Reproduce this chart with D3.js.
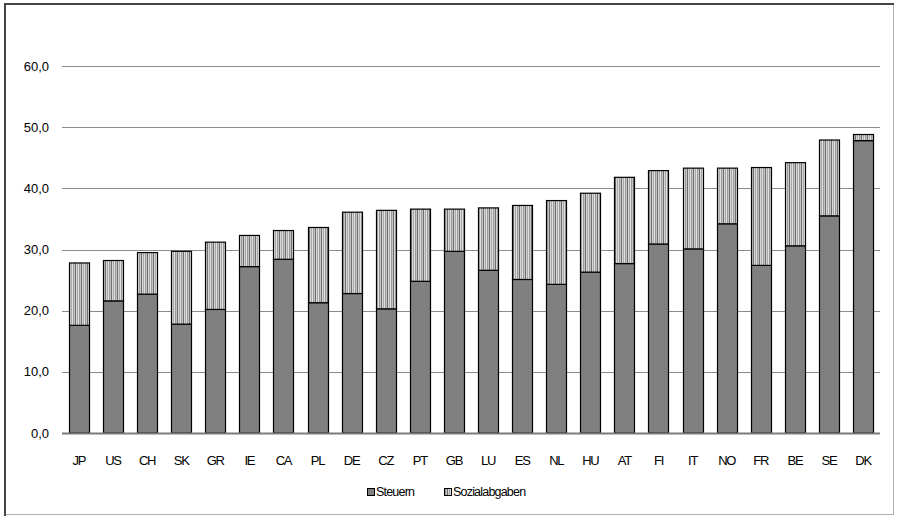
<!DOCTYPE html>
<html>
<head>
<meta charset="utf-8">
<script src="https://cdn.jsdelivr.net/npm/d3@7"></script>
<style>
    body { margin: 0; background: #fff; }
    svg { display: block; font-family: "Liberation Sans", Arial, sans-serif; }
</style>
</head>
<body>
<svg></svg>
<script>
const
    countries = ['JP', 'US', 'CH', 'SK', 'GR', 'IE', 'CA', 'PL', 'DE', 'CZ', 'PT', 'GB',
        'LU', 'ES', 'NL', 'HU', 'AT', 'FI', 'IT', 'NO', 'FR', 'BE', 'SE', 'DK'],
    steuern = [17.6, 21.6, 22.7, 17.8, 20.2, 27.2, 28.4, 21.3, 22.8, 20.3, 24.8, 29.7,
        26.6, 25.1, 24.3, 26.3, 27.7, 30.9, 30.1, 34.2, 27.4, 30.6, 35.5, 47.8],
    sozialabgaben = [10.2, 6.6, 6.8, 11.9, 11.0, 5.1, 4.7, 12.3, 13.3, 16.1, 11.8, 6.9,
        10.2, 12.1, 13.7, 12.9, 14.1, 12.0, 13.2, 9.1, 16.0, 13.6, 12.4, 1.0],
    yTicks = [0, 10, 20, 30, 40, 50, 60],
    seriesNames = ['Steuern', 'Sozialabgaben']

const
    width = 897,
    height = 516,
    margin = { top: 66, right: 17, bottom: 83, left: 62 }

const data = countries.map((c, i) => ({ name: c, Steuern: steuern[i], Sozialabgaben: sozialabgaben[i] }))

const svg = d3.select('svg')
    .attr('width', width)
    .attr('height', height)

// striped fill for Sozialabgaben
const pattern = svg.append('defs').append('pattern')
    .attr('id', 'stripes')
    .attr('patternUnits', 'userSpaceOnUse')
    .attr('width', 6)
    .attr('height', 10)
const stripeColors = ['#e0e0e0', '#9a9a9a', '#c4c4c4', '#6e6e6e', '#d6d6d6', '#a8a8a8']
stripeColors.forEach((c, i) => {
    pattern.append('rect').attr('x', i).attr('y', 0).attr('width', 1).attr('height', 10).attr('fill', c)
})

// outer frame
svg.append('rect')
    .attr('x', 4.5).attr('y', 3.5)
    .attr('width', 889).attr('height', 511)
    .attr('fill', 'none')
    .attr('stroke', '#b0b0b0')
svg.append('line')
    .attr('x1', 5).attr('x2', 5).attr('y1', 3).attr('y2', 516)
    .attr('stroke', '#444').attr('stroke-width', 2)
svg.append('line')
    .attr('x1', 4).attr('x2', 894).attr('y1', 4).attr('y2', 4)
    .attr('stroke', '#444').attr('stroke-width', 2)

const x = d3.scaleBand()
    .domain(countries)
    .range([margin.left, width - margin.right])
    .paddingInner(0.41)
    .paddingOuter(0.2)

const y = d3.scaleLinear()
    .domain([0, 60])
    .range([height - margin.bottom, margin.top])

const fmt = d => d3.format('.1f')(d).replace('.', ',')

// gridlines
svg.append('g')
    .selectAll('line')
    .data(yTicks.filter(d => d > 0))
    .join('line')
    .attr('x1', margin.left)
    .attr('x2', width - margin.right)
    .attr('y1', d => Math.round(y(d)) + 0.5)
    .attr('y2', d => Math.round(y(d)) + 0.5)
    .attr('stroke', '#8c8c8c')

// y labels
svg.append('g')
    .selectAll('text')
    .data(yTicks)
    .join('text')
    .attr('x', 49)
    .attr('y', d => y(d))
    .attr('dy', '0.35em')
    .attr('text-anchor', 'end')
    .attr('font-size', 13)
    .attr('fill', '#000')
    .text(fmt)

const stack = d3.stack().keys(seriesNames)(data)
const fills = { Steuern: '#808080', Sozialabgaben: 'url(#stripes)' }

svg.append('g')
    .selectAll('g')
    .data(stack)
    .join('g')
    .attr('fill', d => fills[d.key])
    .selectAll('rect')
    .data(d => d)
    .join('rect')
    .attr('x', d => Math.round(x(d.data.name)) + 0.5)
    .attr('y', d => y(d[1]))
    .attr('width', Math.round(x.bandwidth()))
    .attr('height', d => y(d[0]) - y(d[1]))
    .attr('stroke', '#000')
    .attr('stroke-width', 1.2)

// zero line
svg.append('line')
    .attr('x1', margin.left)
    .attr('x2', width - margin.right)
    .attr('y1', y(0) + 0.5)
    .attr('y2', y(0) + 0.5)
    .attr('stroke', '#7a7a7a')
    .attr('stroke-width', 2)

// x labels
svg.append('g')
    .selectAll('text')
    .data(countries)
    .join('text')
    .attr('x', d => x(d) + x.bandwidth() / 2)
    .attr('y', 465)
    .attr('text-anchor', 'middle')
    .attr('font-size', 13)
    .attr('letter-spacing', -1.2)
    .text(d => d)

// legend
const legend = svg.append('g').attr('font-size', 12.5).attr('letter-spacing', -0.8)
const legendItems = [
    { name: 'Steuern', x: 367 },
    { name: 'Sozialabgaben', x: 444 }
]
legendItems.forEach(item => {
    legend.append('rect')
        .attr('x', item.x + 0.5).attr('y', 488.5)
        .attr('width', 7).attr('height', 7)
        .attr('fill', fills[item.name])
        .attr('stroke', '#000')
    legend.append('text')
        .attr('x', item.x + 9)
        .attr('y', 496)
        .text(item.name)
})
</script>
</body>
</html>
